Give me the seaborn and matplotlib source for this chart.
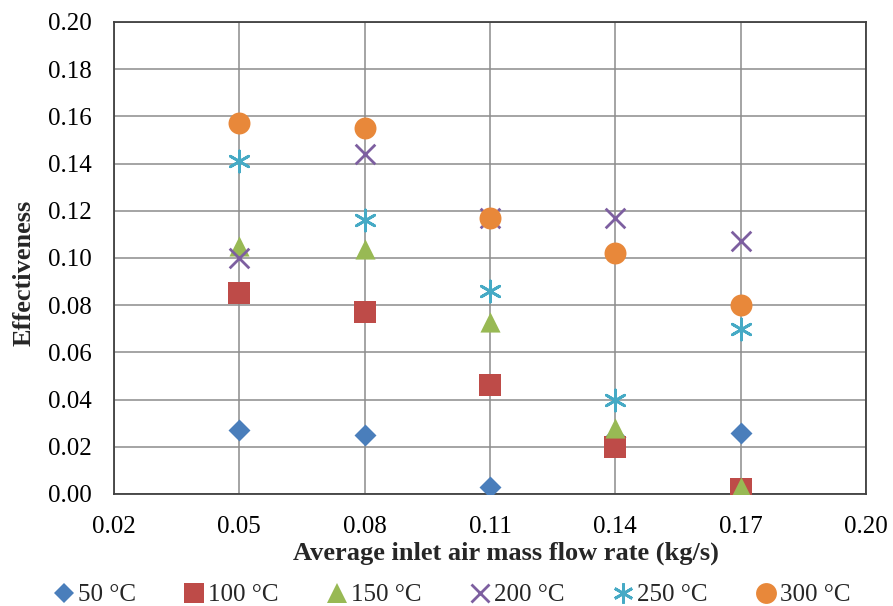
import matplotlib
matplotlib.use("Agg")
import matplotlib.pyplot as plt
import seaborn as sns
import pandas as pd
import numpy as np

flow = [0.05, 0.08, 0.11, 0.14, 0.17]
series = ["50 °C", "100 °C", "150 °C", "200 °C", "250 °C", "300 °C"]
eff_50 = [0.027, 0.025, 0.003, 0.024, 0.026]
eff_100 = [0.085, 0.077, 0.046, 0.020, 0.002]
eff_150 = [0.105, 0.104, 0.073, 0.028, 0.003]
eff_200 = [0.100, 0.144, 0.117, 0.117, 0.107]
eff_250 = [0.141, 0.116, 0.086, 0.040, 0.070]
eff_300 = [0.157, 0.155, 0.117, 0.102, 0.080]
x_ticks = [0.02, 0.05, 0.08, 0.11, 0.14, 0.17, 0.20]
y_ticks = [0.00, 0.02, 0.04, 0.06, 0.08, 0.10, 0.12, 0.14, 0.16, 0.18, 0.20]

colors = ["#4A7EBB", "#BE4B48", "#98B954", "#7D5FA0", "#46AAC5", "#E8883A"]
markers = ["D", "s", "^", "x", (6, 2, 0), "o"]
sizes = [125, 250, 210, 200, 230, 250]

rows = []
for name, vals in zip(series, [eff_50, eff_100, eff_150, eff_200, eff_250, eff_300]):
    for f, v in zip(flow, vals):
        rows.append({"flow": f, "eff": v, "series": name})
df = pd.DataFrame(rows)

sns.set_theme(style="white")
plt.rcParams["font.family"] = ["Liberation Serif", "DejaVu Serif"]

fig = plt.figure(figsize=(8.93, 6.06), dpi=100)
ax = fig.add_axes([114/893, 1-494/606, (866-114)/893, (494-22)/606])

line_markers = ("x", (6, 2, 0))
for name, c, m, s in zip(series, colors, markers, sizes):
    sub = df[df["series"] == name]
    if m in line_markers:
        kw = dict(linewidths=2.0, edgecolor=c)
    else:
        kw = dict(linewidths=0)
    sns.scatterplot(data=sub, x="flow", y="eff", ax=ax, color=c, marker=m,
                    s=s, zorder=3, legend=False, **kw)

ax.set_xlim(0.02, 0.20)
ax.set_ylim(0.0, 0.20)
ax.set_xticks(x_ticks)
ax.set_yticks(y_ticks)
ax.set_xticklabels([f"{t:.2f}" for t in x_ticks])
ax.set_yticklabels([f"{t:.2f}" for t in y_ticks])
ax.grid(True, color="#8C8C8C", linewidth=1.1)
ax.set_axisbelow(True)
for sp in ax.spines.values():
    sp.set_color("#404040")
    sp.set_linewidth(1.3)
ax.tick_params(axis="y", labelsize=18, length=0, pad=16, colors="black")
ax.tick_params(axis="x", labelsize=18, length=0, pad=16, colors="black")
ax.set_xlabel("Average inlet air mass flow rate (kg/s)", fontsize=19,
              fontweight="bold")
ax.set_ylabel("Effectiveness", fontsize=19, fontweight="bold")
ax.xaxis.set_label_coords(0.521, -0.100)
ax.yaxis.set_label_coords(-0.104, 0.468)

handles = []
for name, c, m, s in zip(series, colors, markers, sizes):
    h = plt.Line2D([], [], linestyle="none", marker=m, color=c,
                   markersize=np.sqrt(s) * 0.95,
                   markeredgewidth=2.0 if m in line_markers else 0)
    handles.append(h)
fig.legend(handles, series, loc="center", bbox_to_anchor=(0.505, 1-595/606),
           ncol=6, frameon=False, fontsize=18, handletextpad=0.05,
           columnspacing=1.85, handlelength=1.0, borderpad=0)

fig.savefig("out.png", dpi=100)
